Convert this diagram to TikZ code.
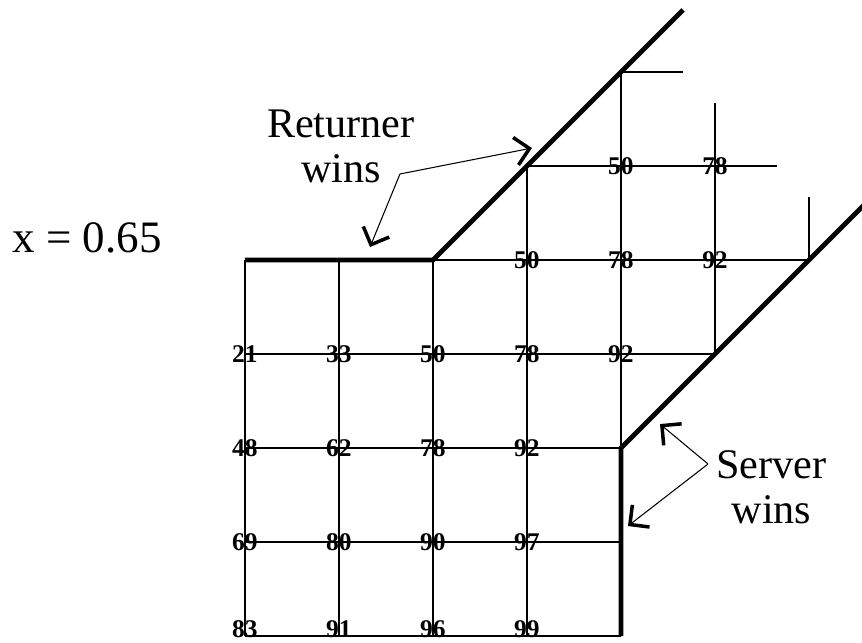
\documentclass[tikz,border=0pt]{standalone}
\usepackage{fontspec}
\setmainfont{Liberation Serif}
\usetikzlibrary{arrows.meta}

\tikzset{
  gridline/.style={line width=1.1pt},
  wall/.style={line width=2.8pt},
  val/.style={inner sep=0pt,font=\fontsize{14.5}{16}\selectfont\bfseries},
  caption/.style={inner sep=0pt,align=center,font=\fontsize{24}{25.6}\selectfont},
  pointer/.style={line width=0.6pt,-{Straight Barb[length=2.8mm,width=5.6mm,line width=2pt]}}
}

\begin{document}
\begin{tikzpicture}[x=1.88cm,y=1.88cm]
\useasboundingbox (-2.606,-0.064) rectangle (6.564,6.766);

% grid points
\foreach \i in {0,...,6}
  \foreach \j in {0,...,6}
    \coordinate (p-\i-\j) at (\i,\j);
\coordinate (e-6) at (4.66,6);
\coordinate (e-5) at (5.66,5);
\coordinate (t-5) at (5,5.67);
\coordinate (t-6) at (6,4.67);
\coordinate (d-up) at (4.66,6.66);
\coordinate (d-lo) at (6.58,4.58);

% horizontal lines
\foreach \j in {0,1,2}
  \draw[gridline] (p-0-\j) -- (p-4-\j);
\draw[gridline] (p-0-3) -- (p-5-3);
\draw[gridline] (p-2-4) -- (p-6-4);
\draw[gridline] (p-3-5) -- (e-5);
\draw[gridline] (p-4-6) -- (e-6);

% vertical lines
\foreach \i in {0,1,2}
  \draw[gridline] (p-\i-0) -- (p-\i-4);
\draw[gridline] (p-3-0) -- (p-3-5);
\draw[gridline] (p-4-2) -- (p-4-6);
\draw[gridline] (p-5-3) -- (t-5);
\draw[gridline] (p-6-4) -- (t-6);

% boundaries
\draw[wall] (p-0-4) -- (p-2-4) -- (d-up);
\draw[wall] (p-4-0) -- (p-4-2) -- (d-lo);

% values
\foreach \i/\j/\v in {0/3/21,1/3/33,2/3/50,3/3/78,4/3/92,
                      0/2/48,1/2/62,2/2/78,3/2/92,
                      0/1/69,1/1/80,2/1/90,3/1/97,
                      3/4/50,4/4/78,5/4/92,
                      4/5/50,5/5/78}
  \node[val] (n-\i-\j) at (p-\i-\j) {\v};
\foreach \i/\v in {0/83,1/91,2/96,3/99}
  \node[val,yshift=0.14cm] (n-\i-0) at (p-\i-0) {\v};

% labels
\node[caption,font=\fontsize{25.6}{27}\selectfont] (xval) at (-1.68,4.234) {x = 0.65};
\node[caption] (retwins) at (1.02,5.21) {Returner\\wins};
\node[caption] (servwins) at (5.60,1.585) {Server\\wins};

% pointers
\coordinate (r-src) at (1.649,4.915);
\coordinate (r-a) at (3.053,5.191);
\coordinate (r-b) at (1.33,4.138);
\coordinate (s-src) at (4.926,1.830);
\coordinate (s-a) at (4.415,2.255);
\coordinate (s-b) at (4.074,1.170);
\draw[pointer] (r-src) -- (r-a);
\draw[pointer] (r-src) -- (r-b);
\draw[pointer] (s-src) -- (s-a);
\draw[pointer] (s-src) -- (s-b);
\end{tikzpicture}
\end{document}
